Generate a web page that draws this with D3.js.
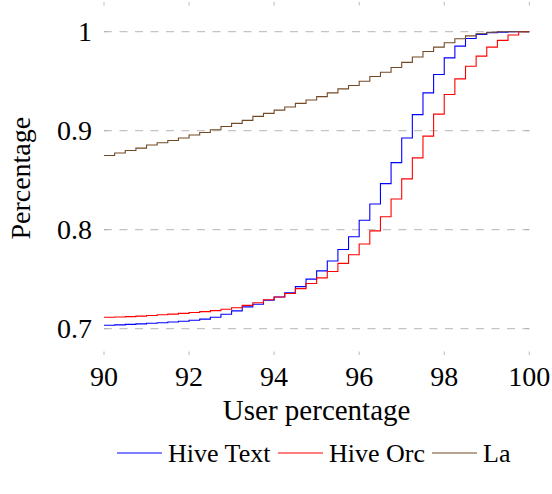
<!DOCTYPE html>
<html>
<head>
<meta charset="utf-8">
<script src="https://cdn.jsdelivr.net/npm/d3@7"></script>
<style>
  html, body { margin: 0; padding: 0; background: #fff; }
  svg { display: block; }
  text { font-family: "Liberation Serif", "Times New Roman", serif; fill: #000; }
</style>
</head>
<body>
<svg id="chart" width="552" height="494"></svg>
<script>
// ---- data ----
const userPct = [90, 90.25, 90.5, 90.75, 91, 91.25, 91.5, 91.75, 92, 92.25, 92.5, 92.75,
  93, 93.25, 93.5, 93.75, 94, 94.25, 94.5, 94.75, 95, 95.25, 95.5, 95.75,
  96, 96.25, 96.5, 96.75, 97, 97.25, 97.5, 97.75, 98, 98.25, 98.5, 98.75,
  99, 99.25, 99.5, 99.75, 100];

const hiveText = [0.7034, 0.7038, 0.7043, 0.7048, 0.7054, 0.7060, 0.7067, 0.7075, 0.7085, 0.7096, 0.7115, 0.7145,
  0.7180, 0.7220, 0.7246, 0.7287, 0.7320, 0.7362, 0.7425, 0.7500, 0.7584, 0.7684, 0.7800, 0.7928,
  0.8095, 0.8260, 0.8465, 0.8677, 0.8926, 0.9162, 0.9382, 0.9567, 0.9736, 0.9854, 0.9932, 0.9973,
  0.9990, 0.9996, 1.0, 1.0, 1.0];

const hiveOrc = [0.7115, 0.7118, 0.7122, 0.7127, 0.7133, 0.7140, 0.7147, 0.7155, 0.7163, 0.7172, 0.7182, 0.7196,
  0.7212, 0.7235, 0.7262, 0.7292, 0.7320, 0.7355, 0.7405, 0.7456, 0.7513, 0.7578, 0.7660, 0.7747,
  0.7856, 0.7988, 0.8131, 0.8310, 0.8513, 0.8725, 0.8945, 0.9167, 0.9365, 0.9523, 0.9651, 0.9753,
  0.9844, 0.9912, 0.9966, 1.0, 1.0];

const la = [0.8749, 0.8774, 0.8800, 0.8824, 0.8855, 0.8878, 0.8901, 0.8926, 0.8956, 0.8982, 0.9010, 0.9043,
  0.9074, 0.9104, 0.9145, 0.9175, 0.9208, 0.9240, 0.9276, 0.9310, 0.9344, 0.9382, 0.9422, 0.9457,
  0.9500, 0.9547, 0.9590, 0.9638, 0.9690, 0.9745, 0.9800, 0.9844, 0.9888, 0.9929, 0.9958, 0.9980,
  0.9994, 1.0, 1.0, 1.0, 1.0];

const seriesNames = ["Hive Text", "Hive Orc", "La"];
const seriesColors = ["#0000ff", "#ff0000", "#744a26"];
const xTicks = [90, 92, 94, 96, 98, 100];
const yTicks = [0.7, 0.8, 0.9, 1];
const yTickLabels = ["0.7", "0.8", "0.9", "1"];

// ---- layout ----
const svg = d3.select("#chart");
const plotL = 104, plotR = 529.3, plotT = 2, plotB = 355;
const x = d3.scaleLinear().domain([90, 100]).range([plotL, plotR]);
const y = d3.scaleLinear().domain([0.6734, 1.0300]).range([plotB, plotT]);
const fontSize = 28;
const fam = "Liberation Serif";

// grid lines
svg.append("g").selectAll("line").data(yTicks).join("line")
  .attr("x1", plotL).attr("x2", plotR)
  .attr("y1", d => y(d)).attr("y2", d => y(d))
  .attr("stroke", "#c4c4c4").attr("stroke-width", 1.3)
  .attr("stroke-dasharray", "8,7.5");

// tick marks (axis lines hidden)
const tickG = svg.append("g").attr("stroke", "#a8a8a8").attr("stroke-width", 0.8);
xTicks.forEach(t => {
  tickG.append("line").attr("x1", x(t)).attr("x2", x(t)).attr("y1", plotT).attr("y2", plotT + 3.5);
  tickG.append("line").attr("x1", x(t)).attr("x2", x(t)).attr("y1", plotB - 3.5).attr("y2", plotB);
});
yTicks.forEach(t => {
  tickG.append("line").attr("x1", plotL).attr("x2", plotL + 3.5).attr("y1", y(t)).attr("y2", y(t));
  tickG.append("line").attr("x1", plotR - 3.5).attr("x2", plotR).attr("y1", y(t)).attr("y2", y(t));
});

// tick labels
svg.append("g").selectAll("text").data(xTicks).join("text")
  .attr("x", d => x(d)).attr("y", 386)
  .attr("text-anchor", "middle").attr("font-size", fontSize).attr("font-family", fam)
  .text(d => d);

svg.append("g").selectAll("text").data(yTicks).join("text")
  .attr("x", 92).attr("y", d => y(d)).attr("dy", "0.34em")
  .attr("text-anchor", "end").attr("font-size", fontSize).attr("font-family", fam)
  .text((d, i) => yTickLabels[i]);

// axis titles
svg.append("text").attr("x", (plotL + plotR) / 2).attr("y", 420)
  .attr("text-anchor", "middle").attr("font-size", 29).attr("font-family", fam)
  .text("User percentage");

svg.append("text").attr("transform", `translate(30,${(y(0.7) + y(1)) / 2 - 2}) rotate(-90)`)
  .attr("text-anchor", "middle").attr("font-size", fontSize).attr("font-family", fam)
  .text("Percentage");

// series
const seriesData = [hiveText, hiveOrc, la];
const line = d3.line()
  .x(d => x(d[0])).y(d => y(d[1]))
  .curve(d3.curveStepAfter);

seriesData.forEach((vals, i) => {
  const pts = userPct.map((u, j) => [u, vals[j]]);
  svg.append("path").datum(pts)
    .attr("d", line)
    .attr("fill", "none")
    .attr("stroke", seriesColors[i])
    .attr("stroke-width", 1.1);
});

// legend
const legendY = 453;
const legendItems = [
  { lx: 117, tx: 168 },
  { lx: 278, tx: 329 },
  { lx: 432, tx: 483 }
];
legendItems.forEach((it, i) => {
  svg.append("line").attr("x1", it.lx).attr("x2", it.lx + 45)
    .attr("y1", legendY).attr("y2", legendY)
    .attr("stroke", seriesColors[i]).attr("stroke-width", 1.1);
  svg.append("text").attr("x", it.tx).attr("y", legendY + 9)
    .attr("font-size", 26).attr("font-family", fam).text(seriesNames[i]);
});
</script>
</body>
</html>
